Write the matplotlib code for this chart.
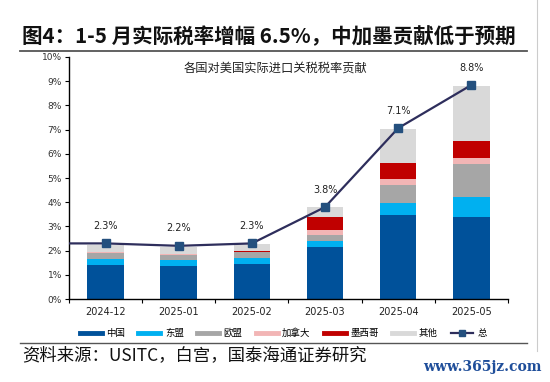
import matplotlib.pyplot as plt
import numpy as np
from matplotlib.lines import Line2D

plt.rcParams['font.family'] = ['Noto Sans CJK SC', 'DejaVu Sans']

# 数据（从图中估读，单位 %）
meses = ['2024-12', '2025-01', '2025-02', '2025-03', '2025-04', '2025-05']
china = [1.40, 1.38, 1.47, 2.14, 3.47, 3.40]
asean = [0.25, 0.24, 0.24, 0.26, 0.51, 0.83]
eu = [0.27, 0.22, 0.22, 0.24, 0.74, 1.36]
canada = [0.01, 0.01, 0.01, 0.21, 0.24, 0.25]
mexico = [0.03, 0.03, 0.03, 0.55, 0.65, 0.70]
outros = [0.28, 0.28, 0.30, 0.40, 1.43, 2.27]
total = [2.30, 2.20, 2.30, 3.80, 7.06, 8.84]

series = [('中国', china, '#00519A'), ('东盟', asean, '#00B0F0'),
          ('欧盟', eu, '#A6A6A6'), ('加拿大', canada, '#F2B5B5'),
          ('墨西哥', mexico, '#C00000'), ('其他', outros, '#D9D9D9')]

fig = plt.figure(figsize=(5.5, 3.82), dpi=100)
ax = fig.add_axes([0.1255, 0.217, 0.798, 0.634])

x = np.arange(len(meses))
base = np.zeros(len(meses))
for nome, vals, cor in series:
    ax.bar(x, vals, width=0.5, bottom=base, color=cor, label=nome, zorder=2)
    base += np.array(vals)

ax.set_xlim(-0.5, len(meses) - 0.5)
ax.set_ylim(0, 10)

# linha do total (estende até o eixo à esquerda)
xl = np.concatenate([[ax.get_xlim()[0]], x])
yl = np.concatenate([[total[0]], total])
ax.plot(xl, yl, color='#2E2E5C', linewidth=1.6, zorder=3)
ax.plot(x, total, linestyle='none', marker='s', markersize=5.5,
        color='#24507E', zorder=4)
for xi, t in zip(x, total):
    ax.annotate(f'{t:.1f}%', (xi, t), xytext=(0, 9), textcoords='offset points',
                ha='center', va='bottom', fontsize=7, color='#222222',
                family=['DejaVu Sans'])

# eixos
ax.set_yticks(np.arange(0, 11, 1))
ax.set_yticklabels([f'{v}%' for v in range(11)], fontsize=6.5, color='#333333',
                   family=['DejaVu Sans'])
ax.set_xticks(np.arange(-0.5, len(meses), 1))
ax.set_xticklabels([])
ax.set_xticks(x, minor=True)
ax.set_xticklabels(meses, minor=True, fontsize=7, color='#222222',
                   family=['DejaVu Sans'])
ax.tick_params(axis='x', which='minor', length=0, pad=6)
ax.tick_params(axis='x', which='major', length=3, direction='out')
ax.tick_params(axis='y', length=3, direction='out', pad=2)
for s in ['top', 'right']:
    ax.spines[s].set_visible(False)
ax.spines['left'].set_linewidth(1.0)
ax.spines['bottom'].set_linewidth(1.0)

ax.text(0.47, 0.955, '各国对美国实际进口关税税率贡献', transform=ax.transAxes,
        ha='center', va='center', fontsize=8.8, color='#222222')

# legenda
handles = [Line2D([0], [0], color=c, linewidth=3.5) for _, _, c in series]
handles.append(Line2D([0], [0], color='#2E2E5C', linewidth=1.6, marker='s',
                      markersize=5, markerfacecolor='#24507E',
                      markeredgecolor='#24507E'))
labels = [n for n, _, _ in series] + ['总']
fig.legend(handles, labels, loc='center', bbox_to_anchor=(0.515, 0.128), ncol=7,
           frameon=False, fontsize=6.8, handlelength=2.3, handletextpad=0.5,
           columnspacing=1.4)

# título, linhas e fonte
fig.text(0.04, 0.905, '图4：1-5 月实际税率增幅 6.5%，中加墨贡献低于预期',
         fontsize=14.8, fontweight='bold', ha='left', va='center', color='#111111')
fig.add_artist(Line2D([0.036, 0.958], [0.866, 0.866], color='#555555', linewidth=1.3))
fig.add_artist(Line2D([0.036, 0.958], [0.102, 0.102], color='#555555', linewidth=1.0))
fig.add_artist(Line2D([0.977, 0.977], [0.08, 1.0], color='#CCCCCC', linewidth=0.8))
fig.text(0.04, 0.07, '资料来源：USITC，白宫，国泰海通证券研究', fontsize=12.5,
         ha='left', va='center', color='#111111')
fig.text(0.985, 0.04, 'www.365jz.com', fontsize=10, fontweight='bold',
         ha='right', va='center', color='#1F4E9A', family=['DejaVu Serif'])

fig.savefig('out.png', dpi=100)
